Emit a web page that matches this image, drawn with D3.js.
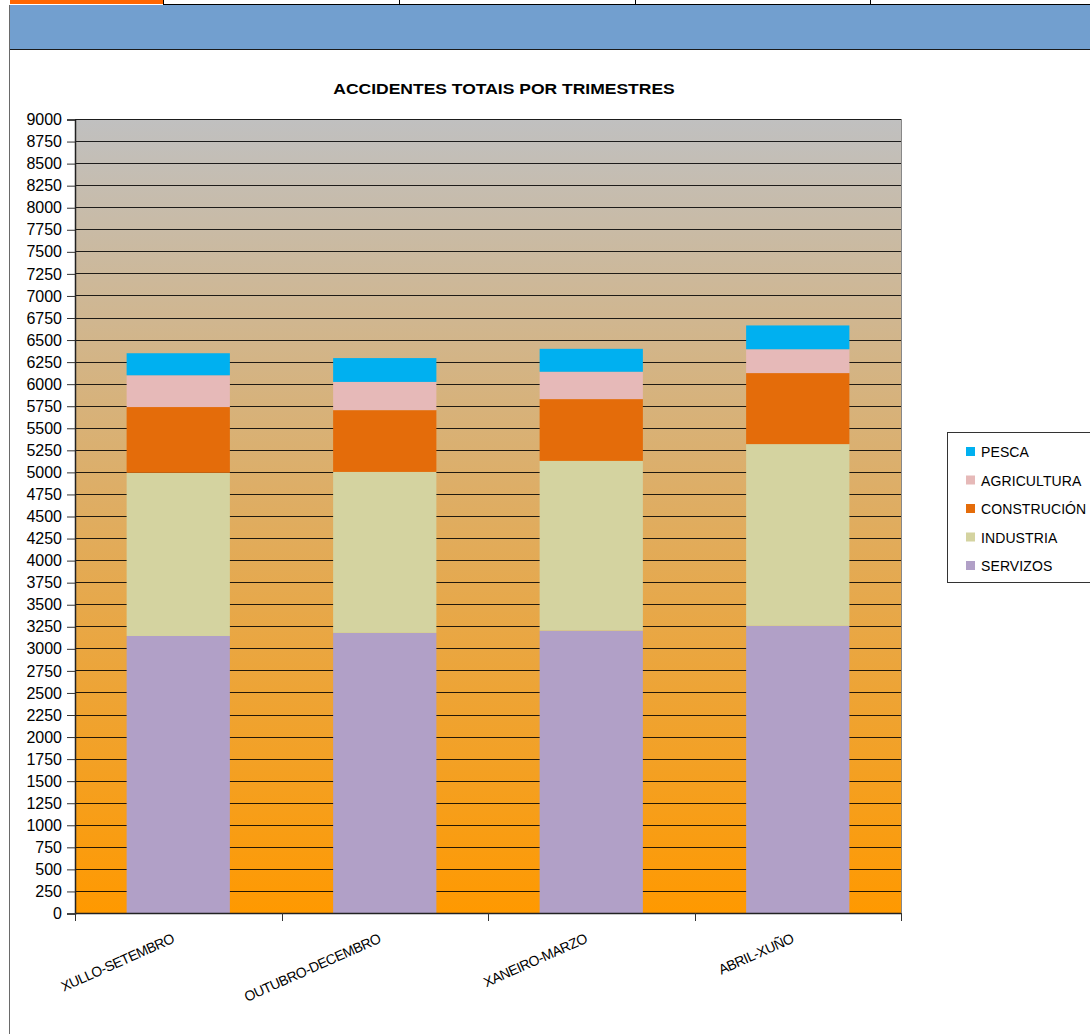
<!DOCTYPE html>
<html>
<head>
<meta charset="utf-8">
<script src="https://cdn.jsdelivr.net/npm/d3@7"></script>
<style>
  body { margin: 0; background: #fff; }
  svg { display: block; font-family: "Liberation Sans", Arial, sans-serif; }
</style>
</head>
<body>
<svg id="chart" width="1090" height="1034"></svg>
<script>
// trimestres
const categories = ["XULLO-SETEMBRO", "OUTUBRO-DECEMBRO", "XANEIRO-MARZO", "ABRIL-XUÑO"];
// series, bottom to top
const seriesNames = ["SERVIZOS", "INDUSTRIA", "CONSTRUCIÓN", "AGRICULTURA", "PESCA"];
const servizos    = [3140, 3175, 3200, 3255];
const industria   = [1850, 1825, 1925, 2060];
const construcion = [745, 700, 700, 805];
const agricultura = [360, 320, 310, 270];
const pesca       = [250, 270, 260, 270];
const yTicks = d3.range(0, 9001, 250);

const colors = {
  "SERVIZOS": "#B1A0C7",
  "INDUSTRIA": "#D4D3A0",
  "CONSTRUCIÓN": "#E46C0A",
  "AGRICULTURA": "#E6B9B8",
  "PESCA": "#00B0F0"
};

const svg = d3.select("#chart");
const margin = { left: 75, right: 189, top: 119, bottom: 121 };
const width = 1090, height = 1034;

/* Cabeceira da folla ---------------------------*/
svg.append("rect").attr("x", 10).attr("y", 0).attr("width", 153).attr("height", 4).attr("fill", "#FF6600");
svg.append("line").attr("x1", 163).attr("x2", width).attr("y1", 4.5).attr("y2", 4.5).attr("stroke", "#000");
[163, 399, 635, 870].forEach(x => {
  svg.append("line").attr("x1", x + 0.5).attr("x2", x + 0.5).attr("y1", 0).attr("y2", 5).attr("stroke", "#000");
});
svg.append("rect").attr("x", 9).attr("y", 5).attr("width", width - 9).attr("height", 44)
  .attr("fill", "#729FCF");
svg.append("line").attr("x1", 9).attr("x2", width).attr("y1", 49.5).attr("y2", 49.5).attr("stroke", "#1a1a1a");
svg.append("line").attr("x1", 9.5).attr("x2", 9.5).attr("y1", 5).attr("y2", height).attr("stroke", "#6a6a6a");

// titulo
svg.append("text")
  .attr("x", 504)
  .attr("text-anchor", "middle")
  .attr("font-size", 17.5).attr("font-weight", "bold")
  .attr("transform", "translate(504,0) scale(1,0.85) translate(-504,0)")
  .attr("y", 95 / 0.85 - 1)
  .text("ACCIDENTES TOTAIS POR TRIMESTRES");

/* Escalas ----------------------------------*/
const xScale = d3.scaleBand()
  .domain(categories)
  .range([margin.left, width - margin.right])
  .paddingInner(0.5).paddingOuter(0.25);

const yScale = d3.scaleLinear()
  .domain([0, 9000])
  .range([height - margin.bottom, margin.top]);

// fondo degradado
const grad = svg.append("defs").append("linearGradient")
  .attr("id", "bg").attr("x1", 0).attr("x2", 0).attr("y1", 0).attr("y2", 1);
grad.append("stop").attr("offset", "0%").attr("stop-color", "#C0C0C0");
grad.append("stop").attr("offset", "100%").attr("stop-color", "#FF9900");

svg.append("rect")
  .attr("x", margin.left).attr("y", margin.top)
  .attr("width", width - margin.left - margin.right)
  .attr("height", height - margin.top - margin.bottom)
  .attr("fill", "url(#bg)");

// grella
svg.append("g")
  .selectAll("line")
  .data(yTicks)
  .join("line")
  .attr("x1", margin.left).attr("x2", width - margin.right)
  .attr("y1", d => Math.round(yScale(d)) + 0.5).attr("y2", d => Math.round(yScale(d)) + 0.5)
  .attr("stroke", "#000").attr("stroke-opacity", 0.85);

/* Barras apiladas --------------------------*/
const table = categories.map((c, i) => ({
  cat: c,
  "SERVIZOS": servizos[i],
  "INDUSTRIA": industria[i],
  "CONSTRUCIÓN": construcion[i],
  "AGRICULTURA": agricultura[i],
  "PESCA": pesca[i]
}));
const stacked = d3.stack().keys(seriesNames)(table);

svg.append("g")
  .selectAll("g")
  .data(stacked)
  .join("g")
  .attr("fill", d => colors[d.key])
  .selectAll("rect")
  .data(d => d)
  .join("rect")
  .attr("x", d => xScale(d.data.cat))
  .attr("width", xScale.bandwidth())
  .attr("y", d => yScale(d[1]))
  .attr("height", d => yScale(d[0]) - yScale(d[1]));

// borde dereito
svg.append("line")
  .attr("x1", width - margin.right + 0.5).attr("x2", width - margin.right + 0.5)
  .attr("y1", margin.top).attr("y2", height - margin.bottom + 8)
  .attr("stroke", "#888");

/* Eixos ------------------------------------*/
const yAxis = d3.axisLeft(yScale)
  .tickValues(yTicks)
  .tickFormat(d3.format("d"))
  .tickSize(8)
  .tickPadding(5);

const gy = svg.append("g")
  .attr("transform", `translate(${margin.left}, 0.5)`)
  .call(yAxis);
gy.select(".domain").attr("stroke", "#222").attr("stroke-width", 1.5);
gy.selectAll(".tick line").attr("stroke", "#333");
gy.selectAll("text").attr("font-size", 16).attr("fill", "#000")
  .attr("font-family", "Liberation Sans, Arial, sans-serif");

// eixo x: marcas nos limites das categorias
const xBounds = d3.range(0, categories.length + 1).map(i => margin.left + i * (width - margin.left - margin.right) / categories.length);
const gx = svg.append("g");
gx.append("line")
  .attr("x1", margin.left).attr("x2", width - margin.right)
  .attr("y1", yScale(0) + 0.5).attr("y2", yScale(0) + 0.5)
  .attr("stroke", "#222").attr("stroke-width", 1.5);
gx.selectAll(".xt")
  .data(xBounds)
  .join("line")
  .attr("class", "xt")
  .attr("x1", d => Math.round(d) + 0.5).attr("x2", d => Math.round(d) + 0.5)
  .attr("y1", yScale(0)).attr("y2", yScale(0) + 8)
  .attr("stroke", "#333");

gx.selectAll("text")
  .data(categories)
  .join("text")
  .attr("transform", d => `translate(${xScale(d) + xScale.bandwidth() / 2 - 3}, ${yScale(0) + 29}) rotate(-24)`)
  .attr("text-anchor", "end")
  .attr("font-size", 14)
  .attr("letter-spacing", -0.5)
  .text(d => d);

/* Lenda ------------------------------------*/
const legend = svg.append("g").attr("transform", "translate(947, 432)");
legend.append("rect")
  .attr("x", 0.5).attr("y", 0.5).attr("width", 160).attr("height", 150)
  .attr("fill", "#fff").attr("stroke", "#333");

const legendOrder = seriesNames.slice().reverse();
const items = legend.selectAll(".item")
  .data(legendOrder)
  .join("g")
  .attr("class", "item")
  .attr("transform", (d, i) => `translate(19, ${20 + i * 28.5})`);
items.append("rect")
  .attr("x", 0).attr("y", -5).attr("width", 9).attr("height", 9)
  .attr("fill", d => colors[d]);
items.append("text")
  .attr("x", 15).attr("y", 5)
  .attr("font-size", 14)
  .attr("letter-spacing", 0.1)
  .text(d => d);
</script>
</body>
</html>
